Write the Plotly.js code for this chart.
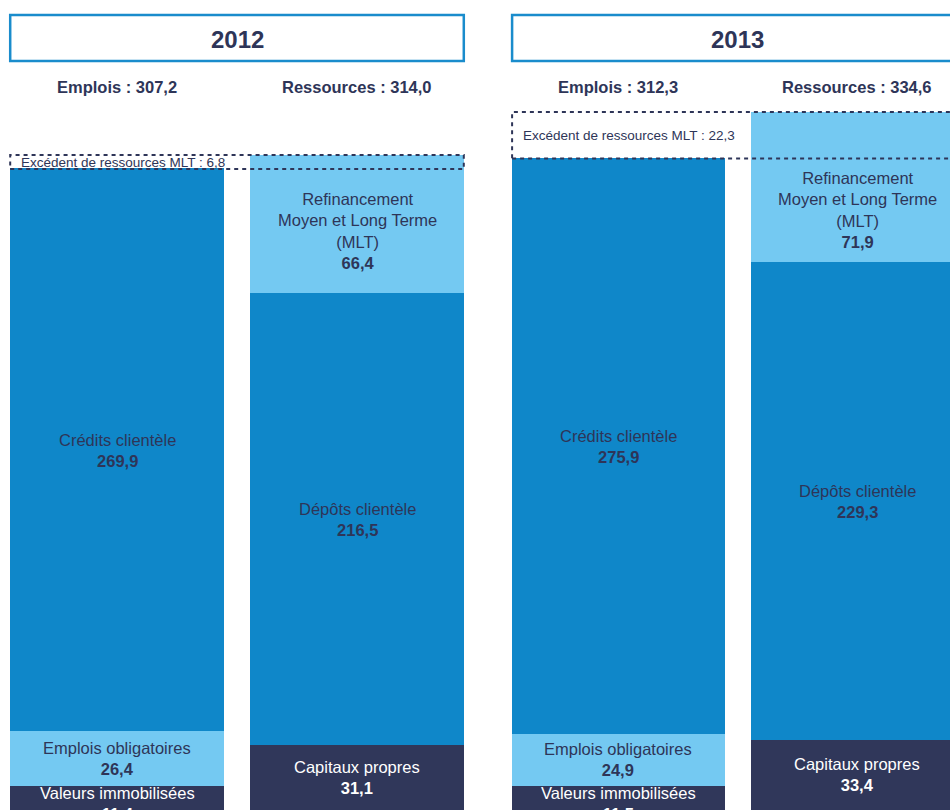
<!DOCTYPE html>
<html>
<head>
<meta charset="utf-8">
<script src="https://cdn.plot.ly/plotly-3.0.1.min.js"></script>
<style>
  html, body { margin: 0; padding: 0; background: #fff; overflow: hidden; }
  #chart { width: 950px; height: 811px; }
</style>
</head>
<body>
<div id="chart"></div>
<script>
// ---- Data ----
const categories = ['Emplois', 'Ressources'];
const yearLabels = ['2012', '2013'];
const bottomNames = ['Valeurs immobilisées', 'Capitaux propres'];
const middleNames = ['Emplois obligatoires', 'Dépôts clientèle'];
const topNames = ['Crédits clientèle', 'Refinancement<br>Moyen et Long Terme<br>(MLT)'];
const bottom2012 = [11.4, 31.1];
const middle2012 = [26.4, 216.5];
const top2012 = [269.9, 66.4];
const bottom2013 = [11.5, 33.4];
const middle2013 = [24.9, 229.3];
const top2013 = [275.9, 71.9];
const totals2012 = [307.2, 314.0];
const totals2013 = [312.3, 334.6];
const excess = [6.8, 22.3];

// ---- Styles ----
const NAVY = '#30375a';
const TEXT = '#2e3558';
const BLUE = '#0f87c9';
const LIGHT = '#74c9f2';
const FRAME = '#1a8ccc';
const FONT = 'Liberation Sans, Arial, Helvetica, sans-serif';
const bottomColors = [NAVY, NAVY];
const middleColors = [LIGHT, BLUE];
const topColors = [BLUE, LIGHT];
const BW = 0.89;
const LABEL_SIZE = 16.5;

const fmt = v => v.toFixed(1).replace('.', ',');

const panels = [
  { year: yearLabels[0], xa: 'x', bottom: bottom2012, middle: middle2012, top: top2012, totals: totals2012, excess: excess[0] },
  { year: yearLabels[1], xa: 'x2', bottom: bottom2013, middle: middle2013, top: top2013, totals: totals2013, excess: excess[1] }
];

const traces = [];
const annotations = [];
const shapes = [];

panels.forEach(p => {
  const levels = [
    { vals: p.bottom, names: bottomNames, colors: bottomColors, tcol: ['#ffffff', '#ffffff'] },
    { vals: p.middle, names: middleNames, colors: middleColors, tcol: [TEXT, TEXT] },
    { vals: p.top, names: topNames, colors: topColors, tcol: [TEXT, TEXT] }
  ];
  const base = [0, 0];
  levels.forEach((lv, li) => {
    traces.push({
      type: 'bar', x: categories, y: lv.vals, xaxis: p.xa, yaxis: 'y',
      width: BW, marker: { color: lv.colors, line: { width: 0 } },
      hoverinfo: 'skip', showlegend: false
    });
    lv.vals.forEach((v, i) => {
      const visTop = Math.min(base[i] + v, p.totals[0]);
      const thin = (li === 0 && i === 0); // thin bottom segment: hang label from its top
      annotations.push({
        xref: p.xa, yref: 'y', x: i,
        y: thin ? base[i] + v : (base[i] + visTop) / 2,
        yanchor: thin ? 'top' : 'middle', yshift: thin ? 4 : 0,
        text: lv.names[i] + '<br><b>' + fmt(v) + '</b>',
        showarrow: false, align: 'center',
        font: { family: FONT, size: LABEL_SIZE, color: lv.tcol[i] }
      });
      base[i] += v;
    });
  });

  // title box
  shapes.push({
    type: 'rect', xref: p.xa, yref: 'paper',
    x0: -BW / 2, x1: 1 + BW / 2, y0: (811 - 61) / 811, y1: (811 - 15) / 811,
    line: { color: FRAME, width: 2.5 }, fillcolor: 'rgba(0,0,0,0)', layer: 'above'
  });
  annotations.push({
    xref: p.xa, yref: 'paper', x: 0.5, y: (811 - 39) / 811, yanchor: 'middle',
    text: '<b>' + p.year + '</b>', showarrow: false,
    font: { family: FONT, size: 24, color: TEXT }
  });

  // headers
  categories.forEach((c, i) => {
    annotations.push({
      xref: p.xa, yref: 'paper', x: i, y: (811 - 87) / 811, yanchor: 'middle',
      text: '<b>' + c + ' : ' + fmt(p.totals[i]) + '</b>', showarrow: false,
      font: { family: FONT, size: 16.5, color: TEXT }
    });
  });

  // excess dashed box
  const y1 = p.totals[1];
  const y0 = p.totals[1] - p.excess;
  shapes.push({
    type: 'rect', xref: p.xa, yref: 'y',
    x0: -BW / 2, x1: 1 + BW / 2, y0: y0, y1: y1,
    line: { color: TEXT, width: 2, dash: '4px,4px' }, fillcolor: 'rgba(0,0,0,0)', layer: 'above'
  });
  annotations.push({
    xref: p.xa, yref: 'y', x: -BW / 2, y: (y0 + y1) / 2, xanchor: 'left', xshift: 9,
    text: 'Excédent de ressources MLT : ' + fmt(p.excess), showarrow: false,
    font: { family: FONT, size: 13.5, color: TEXT }
  });
});

const layout = {
  width: 950, height: 811,
  margin: { l: 0, r: 0, t: 0, b: 0 },
  paper_bgcolor: '#ffffff', plot_bgcolor: '#ffffff',
  barmode: 'stack',
  showlegend: false,
  xaxis: { type: 'category', domain: [0, 488 / 950], range: [-117 / 240, 1 + 131 / 240], visible: false, fixedrange: true },
  xaxis2: { type: 'category', domain: [488 / 950, 1], range: [-131 / 240, 1 + 93 / 240], visible: false, fixedrange: true, anchor: 'y' },
  yaxis: { range: [-0.575, 388.28], visible: false, fixedrange: true },
  shapes: shapes,
  annotations: annotations
};

Plotly.newPlot('chart', traces, layout, { displayModeBar: false, staticPlot: true });
</script>
</body>
</html>
